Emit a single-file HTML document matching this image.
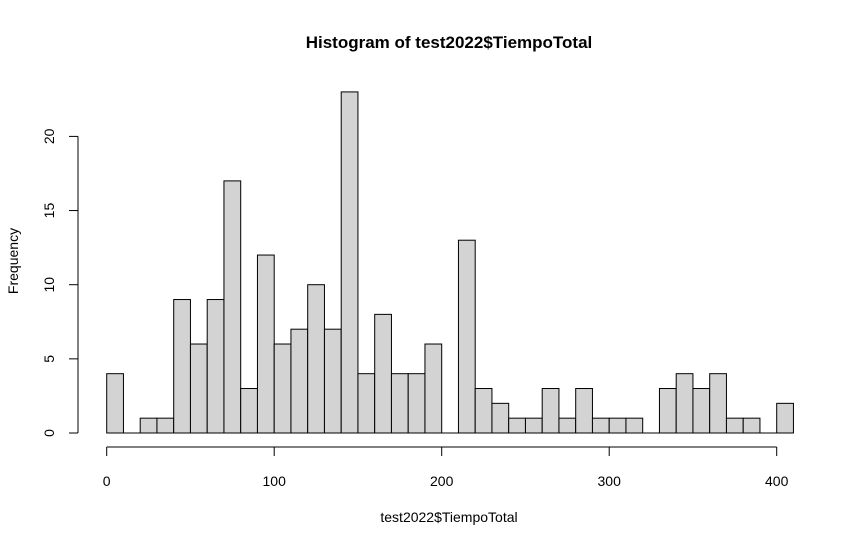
<!DOCTYPE html>
<html><head><meta charset="utf-8"><style>
body{margin:0;background:#fff;}
svg text{font-family:"Liberation Sans",Arial,sans-serif;}
</style></head><body>
<svg id="chart" width="862" height="545" xmlns="http://www.w3.org/2000/svg">
<rect width="862" height="545" fill="#fff"/>
<text x="449" y="48" text-anchor="middle" font-size="17" font-weight="bold">Histogram of test2022$TiempoTotal</text>
<text x="449" y="522" text-anchor="middle" font-size="14">test2022$TiempoTotal</text>
<text transform="translate(18,261) rotate(-90)" text-anchor="middle" font-size="14">Frequency</text>
<g id="bars"></g><g id="axes"></g>
</svg>
<script>
const binStarts=[0,10,20,30,40,50,60,70,80,90,100,110,120,130,140,150,160,170,180,190,200,210,220,230,240,250,260,270,280,290,300,310,320,330,340,350,360,370,380,390,400];
const counts=[4,0,1,1,9,6,9,17,3,12,6,7,10,7,23,4,8,4,4,6,0,13,3,2,1,1,3,1,3,1,1,1,0,3,4,3,4,1,1,0,2];
const binWidth=10;
const xTicks=[0,100,200,300,400];
const yTicks=[0,5,10,15,20];
const NS="http://www.w3.org/2000/svg";
const xs=v=>106.7+v*(670/400);
const ys=v=>433-v*14.83;
const bars=document.getElementById('bars'),axes=document.getElementById('axes');
function mk(tag,attrs,parent){const e=document.createElementNS(NS,tag);for(const k in attrs)e.setAttribute(k,attrs[k]);parent.appendChild(e);return e;}
binStarts.forEach((b,i)=>{
  let r;
  if(counts[i]>0){
    r=mk('rect',{x:xs(b),y:ys(counts[i]),width:xs(b+binWidth)-xs(b),height:ys(0)-ys(counts[i]),fill:'#d3d3d3',stroke:'#000','stroke-width':1},bars);
  } else {
    r=mk('line',{x1:xs(b),x2:xs(b+binWidth),y1:ys(0),y2:ys(0),stroke:'#000','stroke-width':1},bars);
  }
  
  
});
const xl=mk('line',{x1:xs(xTicks[0]),x2:xs(xTicks[xTicks.length-1]),y1:447,y2:447,stroke:'#000'},axes);


xTicks.forEach(t=>{
  mk('line',{x1:xs(t),x2:xs(t),y1:447,y2:456,stroke:'#000'},axes);
  const tx=mk('text',{x:xs(t),y:486,'text-anchor':'middle','font-size':14},axes);
  tx.textContent=t;
  
  
});
const yl=mk('line',{x1:78,x2:78,y1:ys(yTicks[0]),y2:ys(yTicks[yTicks.length-1]),stroke:'#000'},axes);


yTicks.forEach(t=>{
  mk('line',{x1:69,x2:78,y1:ys(t),y2:ys(t),stroke:'#000'},axes);
  const tx=mk('text',{transform:`translate(54,${ys(t)}) rotate(-90)`,'text-anchor':'middle','font-size':14},axes);
  tx.textContent=t;
  
  
});
</script>
</body></html>
